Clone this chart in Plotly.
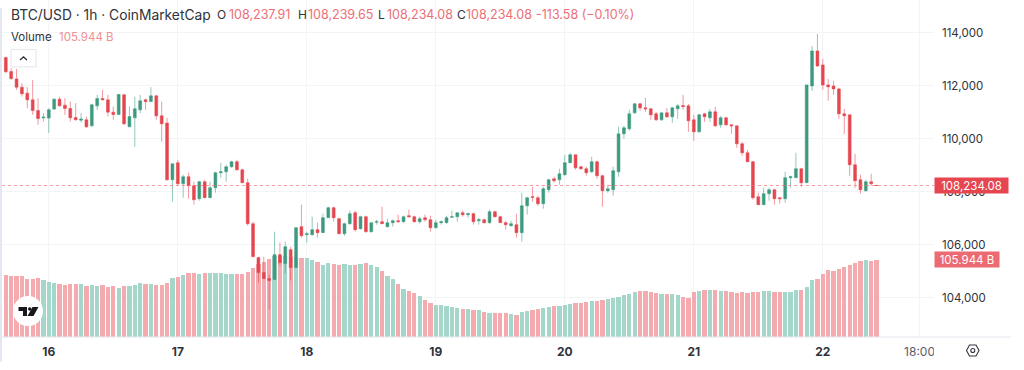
import pandas as pd
import plotly.graph_objects as go

opens = [113070,112540,112264,111951,111724,111471,111068,110792,110781,111121,
111498,111271,111143,110803,110705,110717,110490,111245,111520,111471,
111007,110917,111660,110453,110792,111094,111471,111407,111622,110867,
110592,108453,109094,108301,108566,108226,107736,108377,107773,108151,
108717,108754,108943,109132,108830,108339,106792,105509,104943,104717,
104679,105622,105283,105811,105132,106679,106377,106377,106566,106453,
107019,107396,106981,106415,106792,107207,106604,107056,106490,106849,
106868,106679,106830,106905,106868,107094,107056,106868,107019,106943,
106641,106830,106830,107037,107056,107207,107132,107170,106905,106943,
106830,107245,107056,106830,106717,106754,106453,107471,107811,107773,
107547,108075,108490,108453,108641,109094,109396,108943,108868,108754,
109132,108604,108037,108075,108754,110188,110377,110981,111320,111170,
111132,110943,110717,110981,110830,111132,111256,111245,110717,110264,
110943,110792,111019,110528,110792,110528,110490,109811,109471,109132,
107811,107509,107924,108075,107773,107736,108528,108528,108868,108339,
111999,113320,112792,112037,111999,111886,110943,110905,109019,108453,
108037,108377,108237.91]
highs = [113105,112670,112641,112102,111951,112226,111535,110970,111158,111520,
111573,111535,111407,111347,110970,110841,111320,111660,111849,111660,
111219,111698,111698,111219,111596,111660,111520,111951,111660,111407,
110792,109057,109207,108641,108717,108377,108415,108453,108377,108754,
109094,109019,109170,109207,108868,108490,106868,105547,105547,104867,
106490,106075,106113,105924,106641,107509,106490,107056,106830,107170,
107434,107434,107019,106830,107283,107283,107094,107094,106830,106943,
107434,106981,106943,107132,107094,107320,107094,107056,107132,107094,
106943,106905,107094,107283,107207,107283,107207,107207,107019,106981,
107320,107283,107094,106905,106905,107170,107962,107811,108188,107849,
108188,108490,108566,108868,109396,109471,109396,108981,108943,109320,
109170,108641,108264,108943,110453,110490,111094,111358,111358,111547,
111170,111019,110981,111170,111207,111320,111660,111320,110905,110943,
110981,111132,111207,110868,110830,110566,110490,109887,109585,109170,
107962,108151,108151,108113,107773,108754,108604,109471,108905,112037,
113509,113962,113019,112264,112188,111924,111132,110905,109434,108641,
108453,108679,108239.65]
lows = [112500,112226,111849,111596,111158,110905,110528,110653,110226,111094,
111219,110905,110653,110690,110615,110415,110453,111094,111460,110841,
110717,110905,110528,110450,109698,110970,111094,111385,110717,109887,
108415,107622,108264,107773,107736,107509,107660,107773,107760,107962,
108528,108377,108905,108792,108339,106717,105509,104566,104717,103547,
104679,105207,104905,104641,105132,106264,106075,106339,106264,106453,
107019,106868,106377,106339,106754,106490,106566,106453,106453,106754,
106792,106641,106679,106830,106830,107019,106830,106792,106868,106490,
106604,106754,106792,107019,106868,107056,107019,106754,106754,106792,
106792,107019,106830,106566,106679,106264,106113,107132,107622,107471,
107358,107962,108339,108264,108604,109094,108830,108830,108604,108717,
108490,107434,107962,107849,108566,110000,110301,110943,111056,111019,
110717,110679,110679,110792,110603,110754,111094,110264,109924,110226,
110641,110641,110453,110415,110490,110188,109660,109358,109132,107698,
107509,107509,107660,107509,107547,107585,108151,108528,108188,108339,
111811,112717,111849,111434,111660,110754,110188,108604,108151,107924,
108000,108226,108234.08]
closes = [112530,112275,111951,111698,111471,111068,110766,110819,111094,111498,
111245,111143,110792,110717,110743,110453,111283,111520,111471,111007,
110917,111672,110566,110841,111132,111434,111407,111622,110867,110566,
108453,109057,108301,108566,108226,107698,108377,107773,108151,108717,
108754,108943,109132,108830,108339,106792,105547,104943,104717,104641,
105622,105320,105924,105132,106641,106339,106415,106566,106453,107019,
107396,107019,106415,106792,107170,106566,107056,106490,106830,106868,
106792,106830,106905,106868,107056,107056,106868,106981,106943,106641,
106830,106868,107019,107056,107207,107132,107170,106868,106943,106830,
107245,107056,106830,106754,106792,106453,107471,107773,107792,107547,
108113,108453,108415,108679,109094,109396,108905,108868,108717,109132,
108604,108037,108113,108792,110188,110415,110943,111320,111170,111132,
110905,110717,110981,110830,111170,111245,111219,110679,110264,110905,
110830,111019,110490,110792,110528,110490,109811,109471,109132,107773,
107509,107924,108075,107736,107736,108528,108566,108868,108339,112037,
113320,112754,112037,111962,111886,110943,110868,109019,108415,108075,
108377,108301,108234.08]
volumes_b = [85.4,84.1,83.2,83.2,80.0,80.0,80.4,78.6,75.8,73.6,
72.2,71.7,73.1,73.1,72.2,70.4,70.8,70.4,70.8,68.5,
69.4,67.6,69.9,69.4,71.7,73.6,72.6,72.6,70.8,71.7,
74.5,81.3,82.7,85.0,87.7,88.2,85.9,87.3,87.7,87.7,
87.7,86.4,86.4,85.9,85.9,89.6,95.0,100.5,102.3,106.9,
111.5,111.5,110.6,109.2,108.3,108.3,107.8,105.5,102.8,99.1,
101.4,100.5,99.1,99.6,99.1,98.2,100.5,101.0,98.7,95.5,
90.0,83.2,79.5,73.1,66.3,63.1,59.9,55.7,51.2,46.6,
44.3,43.4,42.5,41.1,39.8,38.4,38.4,37.5,37.5,34.7,
32.4,33.4,32.9,32.4,31.5,30.2,33.8,36.1,37.5,38.8,
39.3,41.1,42.9,42.5,44.3,44.8,46.1,47.1,47.5,48.9,
48.9,50.3,52.5,53.0,54.4,58.0,58.5,61.7,63.5,63.5,
61.2,59.9,58.5,58.9,58.9,57.1,54.4,53.5,61.7,63.5,
64.0,64.4,64.4,63.1,63.5,62.1,60.8,61.7,60.3,62.1,
62.1,63.5,62.6,62.1,61.2,62.1,61.7,64.0,64.9,69.0,
77.7,79.5,85.9,91.4,90.9,92.8,96.0,98.7,101.0,103.7,
105.5,104.6,105.944]

price_ticks = [104000, 106000, 108000, 110000, 112000, 114000]
price_labels = ["104,000", "106,000", "108,000", "110,000", "112,000", "114,000"]
day_ticks = ["2025-10-16", "2025-10-17", "2025-10-18", "2025-10-19", "2025-10-20", "2025-10-21", "2025-10-22", "2025-10-22 18:00"]
day_labels = ["<b>16</b>", "<b>17</b>", "<b>18</b>", "<b>19</b>", "<b>20</b>", "<b>21</b>", "<b>22</b>",
              "<span style='color:#5a5d66'>18:00</span>"]
last_price = 108234.08
last_volume = 105.944

FONT = "Inter"
DARK = "#2f323b"
UP, DOWN = "#3d9a80", "#e5464f"
UP_WICK, DOWN_WICK = "rgba(61,154,128,0.55)", "rgba(229,70,79,0.55)"
UP_VOL, DOWN_VOL = "#a4d7ca", "#f4abb0"
GRID = "#f3f4f8"

W, H = 1024, 370
L, R, B = 2, 90, 32.5
PW, PH = W - L - R, H - B
PX_HOUR = 5.375


def px(x):
    return (x - L) / PW


def py(y):
    return (PH - y) / PH


times = pd.date_range("2025-10-15 16:00", periods=len(closes), freq="h")
x_start = times[0] - pd.Timedelta(hours=(5.8 - L) / PX_HOUR)
x_end = x_start + pd.Timedelta(hours=PW / PX_HOUR)
vol_colors = [UP_VOL if c >= o else DOWN_VOL for o, c in zip(opens, closes)]

fig = go.Figure()
fig.add_trace(go.Bar(x=times, y=volumes_b, marker=dict(color=vol_colors, line_width=0),
                     width=3600000 * 0.8, yaxis="y", xaxis="x", hoverinfo="skip"))
fig.add_trace(go.Candlestick(x=times, open=opens, high=highs, low=lows, close=closes,
                             yaxis="y2", xaxis="x", whiskerwidth=0,
                             increasing=dict(line=dict(color=UP_WICK, width=1), fillcolor=UP),
                             decreasing=dict(line=dict(color=DOWN_WICK, width=1), fillcolor=DOWN)))

shapes = []
# last-price line
shapes.append(dict(type="line", xref="paper", x0=0, x1=1, yref="y2", y0=last_price, y1=last_price,
                   line=dict(color="rgba(240,120,130,0.75)", width=1, dash="dot"), layer="above"))
# bottom axis rule and left strip
shapes.append(dict(type="line", xref="paper", yref="paper", x0=0, x1=px(1011), y0=0, y1=0,
                   line=dict(color="#e4e6ee", width=1), layer="above"))
shapes.append(dict(type="rect", xref="paper", yref="paper", x0=px(0), x1=px(2), y0=py(362), y1=py(8),
                   fillcolor="#e4e6f0", line_width=0, layer="above"))
# collapse button
shapes.append(dict(type="rect", xref="paper", yref="paper", x0=px(11), x1=px(36), y0=py(67), y1=py(49.5),
                   fillcolor="white", line=dict(color="#e3e5ec", width=1), layer="above"))
shapes.append(dict(type="path", xref="paper", yref="paper",
                   path=f"M{px(20)},{py(60)} L{px(23.5)},{py(57)} L{px(27)},{py(60)}",
                   line=dict(color=DARK, width=1.3), layer="above"))
# TradingView badge
shapes.append(dict(type="circle", xref="paper", yref="paper", x0=px(13), x1=px(43), y0=py(326.5), y1=py(296.5),
                   fillcolor="white", line_width=0, layer="above"))
shapes.append(dict(type="path", xref="paper", yref="paper",
                   path=f"M{px(18.5)},{py(307.5)} H{px(27)} V{py(316.5)} H{px(23)} V{py(311.5)} H{px(18.5)} Z",
                   fillcolor="#16181d", line_width=0, layer="above"))
shapes.append(dict(type="circle", xref="paper", yref="paper", x0=px(28), x1=px(31.4), y0=py(311.2), y1=py(307.8),
                   fillcolor="#16181d", line_width=0, layer="above"))
shapes.append(dict(type="path", xref="paper", yref="paper",
                   path=f"M{px(32.5)},{py(307.5)} H{px(38.5)} L{px(33.5)},{py(316.5)} H{px(27.5)} Z",
                   fillcolor="#16181d", line_width=0, layer="above"))
# clip of the last time label
shapes.append(dict(type="rect", xref="paper", yref="paper", x0=px(934), x1=px(946), y0=py(360), y1=py(342),
                   fillcolor="white", line_width=0, layer="above"))
# settings icon
shapes.append(dict(type="path", xref="paper", yref="paper",
                   path=f"M{px(966.5)},{py(351)} L{px(969.5)},{py(345.5)} H{px(976)} L{px(979)},{py(351)} "
                        f"L{px(976)},{py(356.5)} H{px(969.5)} Z",
                   line=dict(color="#33363f", width=1.1), layer="above"))
shapes.append(dict(type="circle", xref="paper", yref="paper", x0=px(970.8), x1=px(974.8), y0=py(353), y1=py(349),
                   line=dict(color="#33363f", width=1.1), layer="above"))


def label(text, x, y, size=12, color=DARK):
    return dict(text=text, xref="paper", yref="paper", x=px(x - 2), y=py(y), xanchor="left", yanchor="middle",
                showarrow=False, font=dict(family=FONT, size=size, color=color))


RED_TXT = "#ee6e76"
annotations = [
    label("BTC/USD · 1h · CoinMarketCap", 11, 15, 13.8),
    label("O", 217, 15, 12), label("108,237.91", 229, 15, 12.5, RED_TXT),
    label("H", 298, 15, 12), label("108,239.65", 308, 15, 12.5, RED_TXT),
    label("L", 378, 15, 12), label("108,234.08", 386.5, 15, 12.5, RED_TXT),
    label("C", 456.5, 15, 12), label("108,234.08", 466, 15, 12.5, RED_TXT),
    label("-113.58 (−0.10%)", 535.5, 15, 12.5, RED_TXT),
    label("Volume", 11, 37, 11.5),
    label("105.944 B", 59, 37, 11.5, "#f18f95"),
    dict(text=f"{last_price:,.2f}", xref="paper", x=1, xanchor="left", yref="y2", y=last_price, yanchor="middle",
         showarrow=False, bgcolor="#e5464f", width=73, height=15, align="center", borderpad=0,
         font=dict(family=FONT, size=11.5, color="white")),
    dict(text=f"{last_volume:.3f} B", xref="paper", x=1, xanchor="left", yref="y", y=last_volume, yanchor="middle",
         showarrow=False, bgcolor="#ec6a72", width=64, height=15, align="center", borderpad=0,
         font=dict(family=FONT, size=11.5, color="white")),
]

fig.update_layout(
    width=W, height=H, margin=dict(l=L, r=R, t=0, b=B, pad=0),
    paper_bgcolor="white", plot_bgcolor="white", showlegend=False,
    boxgap=0.25, bargap=0, shapes=shapes, annotations=annotations,
    xaxis=dict(type="date", range=[x_start, x_end], rangeslider=dict(visible=False),
               tickmode="array", tickvals=day_ticks, ticktext=day_labels,
               showgrid=True, gridcolor=GRID, gridwidth=1, zeroline=False, showline=False, ticks="",
               ticklabelstandoff=6, tickfont=dict(family=FONT, size=12, color=DARK)),
    yaxis=dict(range=[0, last_volume * PH / 77.3], visible=False, fixedrange=True),
    yaxis2=dict(overlaying="y", side="right", range=[102509, 115245],
                tickmode="array", tickvals=price_ticks, ticktext=price_labels,
                showgrid=True, gridcolor=GRID, gridwidth=1, zeroline=False, showline=False, ticks="",
                ticklabelstandoff=7, tickfont=dict(family=FONT, size=11.5, color=DARK)),
)

fig.write_html("out.html", post_script="document.body.style.margin='0';document.body.style.overflow='hidden';",
               config=dict(displayModeBar=False))
